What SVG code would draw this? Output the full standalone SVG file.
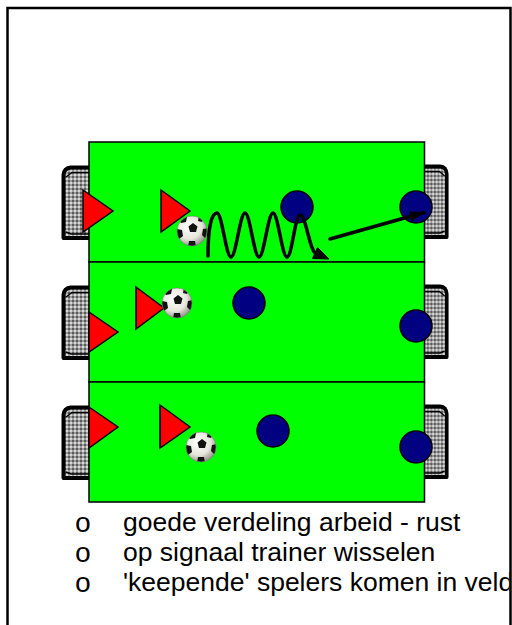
<svg xmlns="http://www.w3.org/2000/svg" xmlns:xlink="http://www.w3.org/1999/xlink" width="512" height="625" viewBox="0 0 512 625">
<style>
.field{fill:#00FF00;stroke:#000;stroke-width:1.5}
.att{fill:#FF0000;stroke:#000;stroke-width:1.5;stroke-linejoin:miter}
.def{fill:#000080;stroke:#000;stroke-width:1.5}
.txt{font-family:"Liberation Sans",Arial,sans-serif;font-size:26.5px;fill:#000}
.bul{font-family:"Liberation Mono","Courier New",monospace;font-size:28px;fill:#000}
.conn{fill:none;stroke:#000;stroke-width:3.5;stroke-linecap:round}
.head{fill:#000;stroke:#000;stroke-width:1;stroke-linejoin:round}
</style>
<defs>
<pattern id="net" width="4" height="4" patternUnits="userSpaceOnUse">
<rect width="4" height="4" fill="#5a5a5a"/>
<rect x="1.5" y="0.2" width="1" height="3.6" fill="#fff"/>
<rect x="0.2" y="1.5" width="3.6" height="1" fill="#fff"/>
</pattern>
<radialGradient id="ballg" cx="0.4" cy="0.35" r="0.7">
<stop offset="0" stop-color="#ffffff"/>
<stop offset="0.6" stop-color="#e6e6dc"/>
<stop offset="1" stop-color="#8a8a80"/>
</radialGradient>
<clipPath id="ballclip"><circle r="15"/></clipPath>
<clipPath id="frameclip"><rect x="0" y="0" width="509.5" height="625"/></clipPath>
<g id="goal">
<rect x="3" y="3" width="27" height="70" fill="url(#net)"/>
<path d="M29,2.5 H10 Q3,3 2.5,10 V73 H29" fill="none" stroke="#000" stroke-width="4" stroke-linejoin="round"/>
<path d="M29,7.5 H11 L5,12" fill="none" stroke="#000" stroke-width="1.5"/>
<path d="M5,67 L10,69 H29" fill="none" stroke="#000" stroke-width="1.5"/>
</g>
<g id="ball">
<circle r="15" fill="url(#ballg)"/>
<g clip-path="url(#ballclip)" fill="#111">
<polygon points="1,-8 5.5,-4.5 4,1 -2,1 -3.5,-4.5"/>
<polygon points="-15,-2 -10,-1 -9,5 -13,8 -17,4"/>
<polygon points="-3,10 3,10 4,16 -4,16"/>
<polygon points="11,-2 16,-3 17,5 13,7 10,4"/>
<polygon points="-10,-16 -5,-14 -6,-9 -11,-8 -14,-12"/>
<polygon points="7,-16 12,-13 10,-9 6,-10"/>
</g>
<circle r="15" fill="none" stroke="#777" stroke-width="0.6"/>
</g>
<marker id="ah2" viewBox="0 0 10 10" refX="9" refY="5" markerWidth="16" markerHeight="10" orient="auto" markerUnits="userSpaceOnUse" preserveAspectRatio="none">
<path d="M0,0 L10,5 L0,10 z" fill="#000"/>
</marker>
</defs>
<rect width="512" height="625" fill="#fff"/>
<path d="M7.5,625 V8 H510.5 V625" fill="none" stroke="#000" stroke-width="2.5"/>

<g id="goals">
<use xlink:href="#goal" transform="translate(61,165)"/>
<use xlink:href="#goal" transform="translate(61,285)"/>
<use xlink:href="#goal" transform="translate(61,405)"/>
<use xlink:href="#goal" transform="translate(449,164) scale(-0.88,1)"/>
<use xlink:href="#goal" transform="translate(449,284) scale(-0.88,1)"/>
<use xlink:href="#goal" transform="translate(449,404) scale(-0.88,1)"/>
</g>

<g id="field1"><rect class="field" x="89" y="142" width="335.5" height="120"/></g>
<g id="field2"><rect class="field" x="89" y="262" width="335.5" height="120"/></g>
<g id="field3"><rect class="field" x="89" y="382" width="335.5" height="120"/></g>

<g id="attackers">
<polygon class="att" points="83,190 113,211 83,232"/>
<polygon class="att" points="161,190 190,211 161,232"/>
<polygon class="att" points="89,312 118,332 89,352"/>
<polygon class="att" points="136,287 164,308 136,329"/>
<polygon class="att" points="89,407 118,427 89,448"/>
<polygon class="att" points="160,405 190,427 160,448"/>
</g>

<g id="defenders">
<circle class="def" cx="297" cy="207" r="16"/>
<circle class="def" cx="416" cy="207" r="16"/>
<circle class="def" cx="249" cy="303" r="16"/>
<circle class="def" cx="416" cy="326" r="16"/>
<circle class="def" cx="273" cy="431" r="16"/>
<circle class="def" cx="416" cy="447" r="16"/>
</g>

<g id="balls">
<use xlink:href="#ball" transform="translate(192,231)"/>
<use xlink:href="#ball" transform="translate(177,303)"/>
<use xlink:href="#ball" transform="translate(201,447)"/>
</g>

<g id="connectors">
<path class="conn" d="M208,256 C208,225 212,213 217,213 C222,213 226,257 231,257 C236,257 240,213 245,213 C250,213 254,257 259,257 C264,257 268,213 273,213 C278,213 282,257 287,257 C292,257 295,215 300,215 C306,215 309,248 315,253 L318,254.5"/>
<polygon class="head" points="329,259 312.5,258.5 317.5,247.5"/>
<path class="conn" marker-end="url(#ah2)" d="M330,239 L424,212.5" stroke-width="2.4"/>
</g>

<g id="notes" clip-path="url(#frameclip)">
<text class="bul" x="83" y="532" text-anchor="middle">o</text>
<text class="bul" x="83" y="562" text-anchor="middle">o</text>
<text class="bul" x="83" y="592" text-anchor="middle">o</text>
<text class="txt" x="123" y="531">goede verdeling arbeid - rust</text>
<text class="txt" x="123" y="561">op signaal trainer wisselen</text>
<text class="txt" x="123" y="591">'keepende' spelers komen in veld</text>
</g>
</svg>
